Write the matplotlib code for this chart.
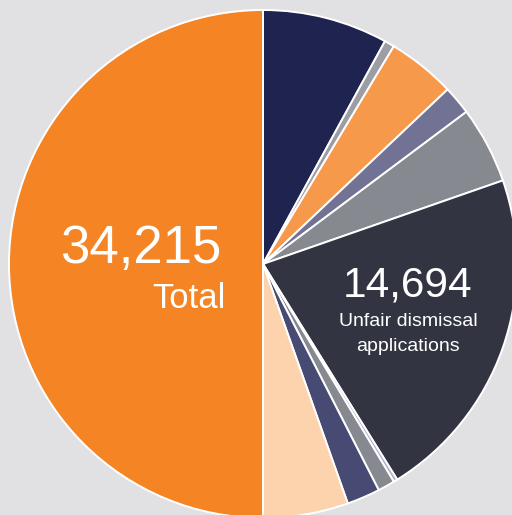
import matplotlib
matplotlib.use("Agg")
import matplotlib.pyplot as plt

# слева — весь объём, справа — разбивка по категориям (в сумме тоже 34,215)
total = 34215
labels = ["cat_a", "cat_b", "cat_c", "cat_d", "cat_e", "unfair_dismissal",
          "cat_f", "cat_g", "cat_h", "cat_i"]
values = [5455, 437, 2965, 1255, 3345, 14694, 171, 741, 1445, 3707]
colors = ["#1f2350", "#9c9ea6", "#f7994a", "#727294", "#868990", "#323541",
          "#b3b3d0", "#868990", "#474a72", "#fdd3ae"]

bg = "#e1e1e3"
fig = plt.figure(figsize=(5.12, 5.15), dpi=100, facecolor=bg)
ax = fig.add_axes([0, 0, 1, 1])
ax.set_facecolor(bg)

ax.pie(values + [total], colors=colors + ["#f48424"],
       startangle=90, counterclock=False, center=(263, 251), radius=254,
       wedgeprops=dict(edgecolor="white", linewidth=1.4))

# pie сам выставляет пределы — перебиваем на пиксельную сетку
ax.set_aspect("auto")
ax.set_xlim(0, 512)
ax.set_ylim(0, 515)
ax.axis("off")

font = ["Liberation Sans", "DejaVu Sans"]
txt = dict(color="white", family=font, va="baseline")
ax.text(221, 252, f"{total:,}", fontsize=38, ha="right", **txt)
ax.text(226, 207, "Total", fontsize=25, ha="right", **txt)
ax.text(408, 219, f"{values[5]:,}", fontsize=30.5, ha="center", **txt)
ax.text(408, 189, "Unfair dismissal", fontsize=14, ha="center", **txt)
ax.text(408, 164, "applications", fontsize=14, ha="center", **txt)

fig.savefig("out.png", dpi=100, facecolor=bg)
